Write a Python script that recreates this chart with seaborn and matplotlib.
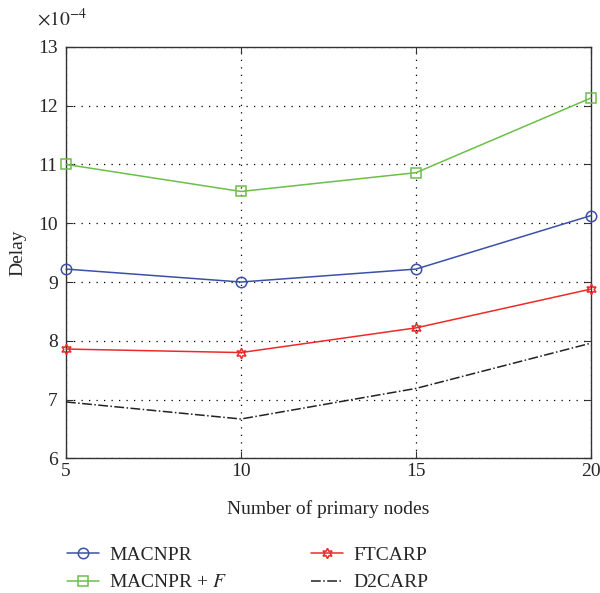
import numpy as np
import matplotlib
matplotlib.use("Agg")
import matplotlib.pyplot as plt
import seaborn as sns

# values, in units of 1e-4
nodes = [5, 10, 15, 20]
macnpr = [9.22, 9.00, 9.22, 10.13]
macnpr_f = [11.00, 10.54, 10.86, 12.13]
ftcarp = [7.86, 7.80, 8.22, 8.88]
d2carp = [6.96, 6.67, 7.19, 7.96]
y_ticks = [6, 7, 8, 9, 10, 11, 12, 13]

sns.set_style("white")
plt.rcParams["font.family"] = ["Liberation Serif", "DejaVu Serif"]
plt.rcParams["mathtext.fontset"] = "stix"

fig = plt.figure(figsize=(6.0, 5.93), dpi=100)
ax = fig.add_axes([0.11, 0.227, 0.875, 0.694])

series = [
    ("MACNPR", macnpr, "#3c50a8", "o", "-"),
    ("MACNPR + $F$", macnpr_f, "#6cbf48", "s", "-"),
    ("FTCARP", ftcarp, "#ec2a2a", (6, 1, 0), "-"),
    ("D2CARP", d2carp, "#222222", None, "-."),
]
for name, vals, color, marker, ls in series:
    sns.lineplot(x=nodes, y=vals, ax=ax, color=color, linestyle=ls, lw=1.1,
                 marker=marker, markersize=7.5,
                 markerfacecolor="none", markeredgecolor=color,
                 markeredgewidth=1.1, label=name, legend=False,
                 clip_on=False, zorder=3)

ax.set_xlim(5, 20)
ax.set_ylim(6, 13)
ax.set_xticks(nodes)
ax.set_yticks(y_ticks)

ax.grid(True, linestyle=(0, (1, 5)), color="black", lw=0.9)
ax.tick_params(direction="in", length=5, labelsize=14, top=True, right=True,
               bottom=True, left=True, color="#333333")
ax.tick_params(axis="y", pad=6)
for s in ax.spines.values():
    s.set_color("#333333")
    s.set_linewidth(1.0)
    s.set_visible(True)

ax.set_xlabel("Number of primary nodes", fontsize=14, labelpad=14)
ax.set_ylabel("Delay", fontsize=14, labelpad=8)
fig.text(0.062, 0.968, r"$\times10^{-4}$", fontsize=14, va="center", ha="left")

data_lines = [l for l in ax.get_lines() if not l.get_label().startswith("_")]
fig.legend(data_lines, [l.get_label() for l in data_lines], ncol=2,
           loc="upper left", bbox_to_anchor=(0.082, 0.108), frameon=False,
           fontsize=14, handlelength=1.65, handletextpad=0.55,
           columnspacing=4.3, labelspacing=0.5)

fig.savefig("out.png", dpi=100)
